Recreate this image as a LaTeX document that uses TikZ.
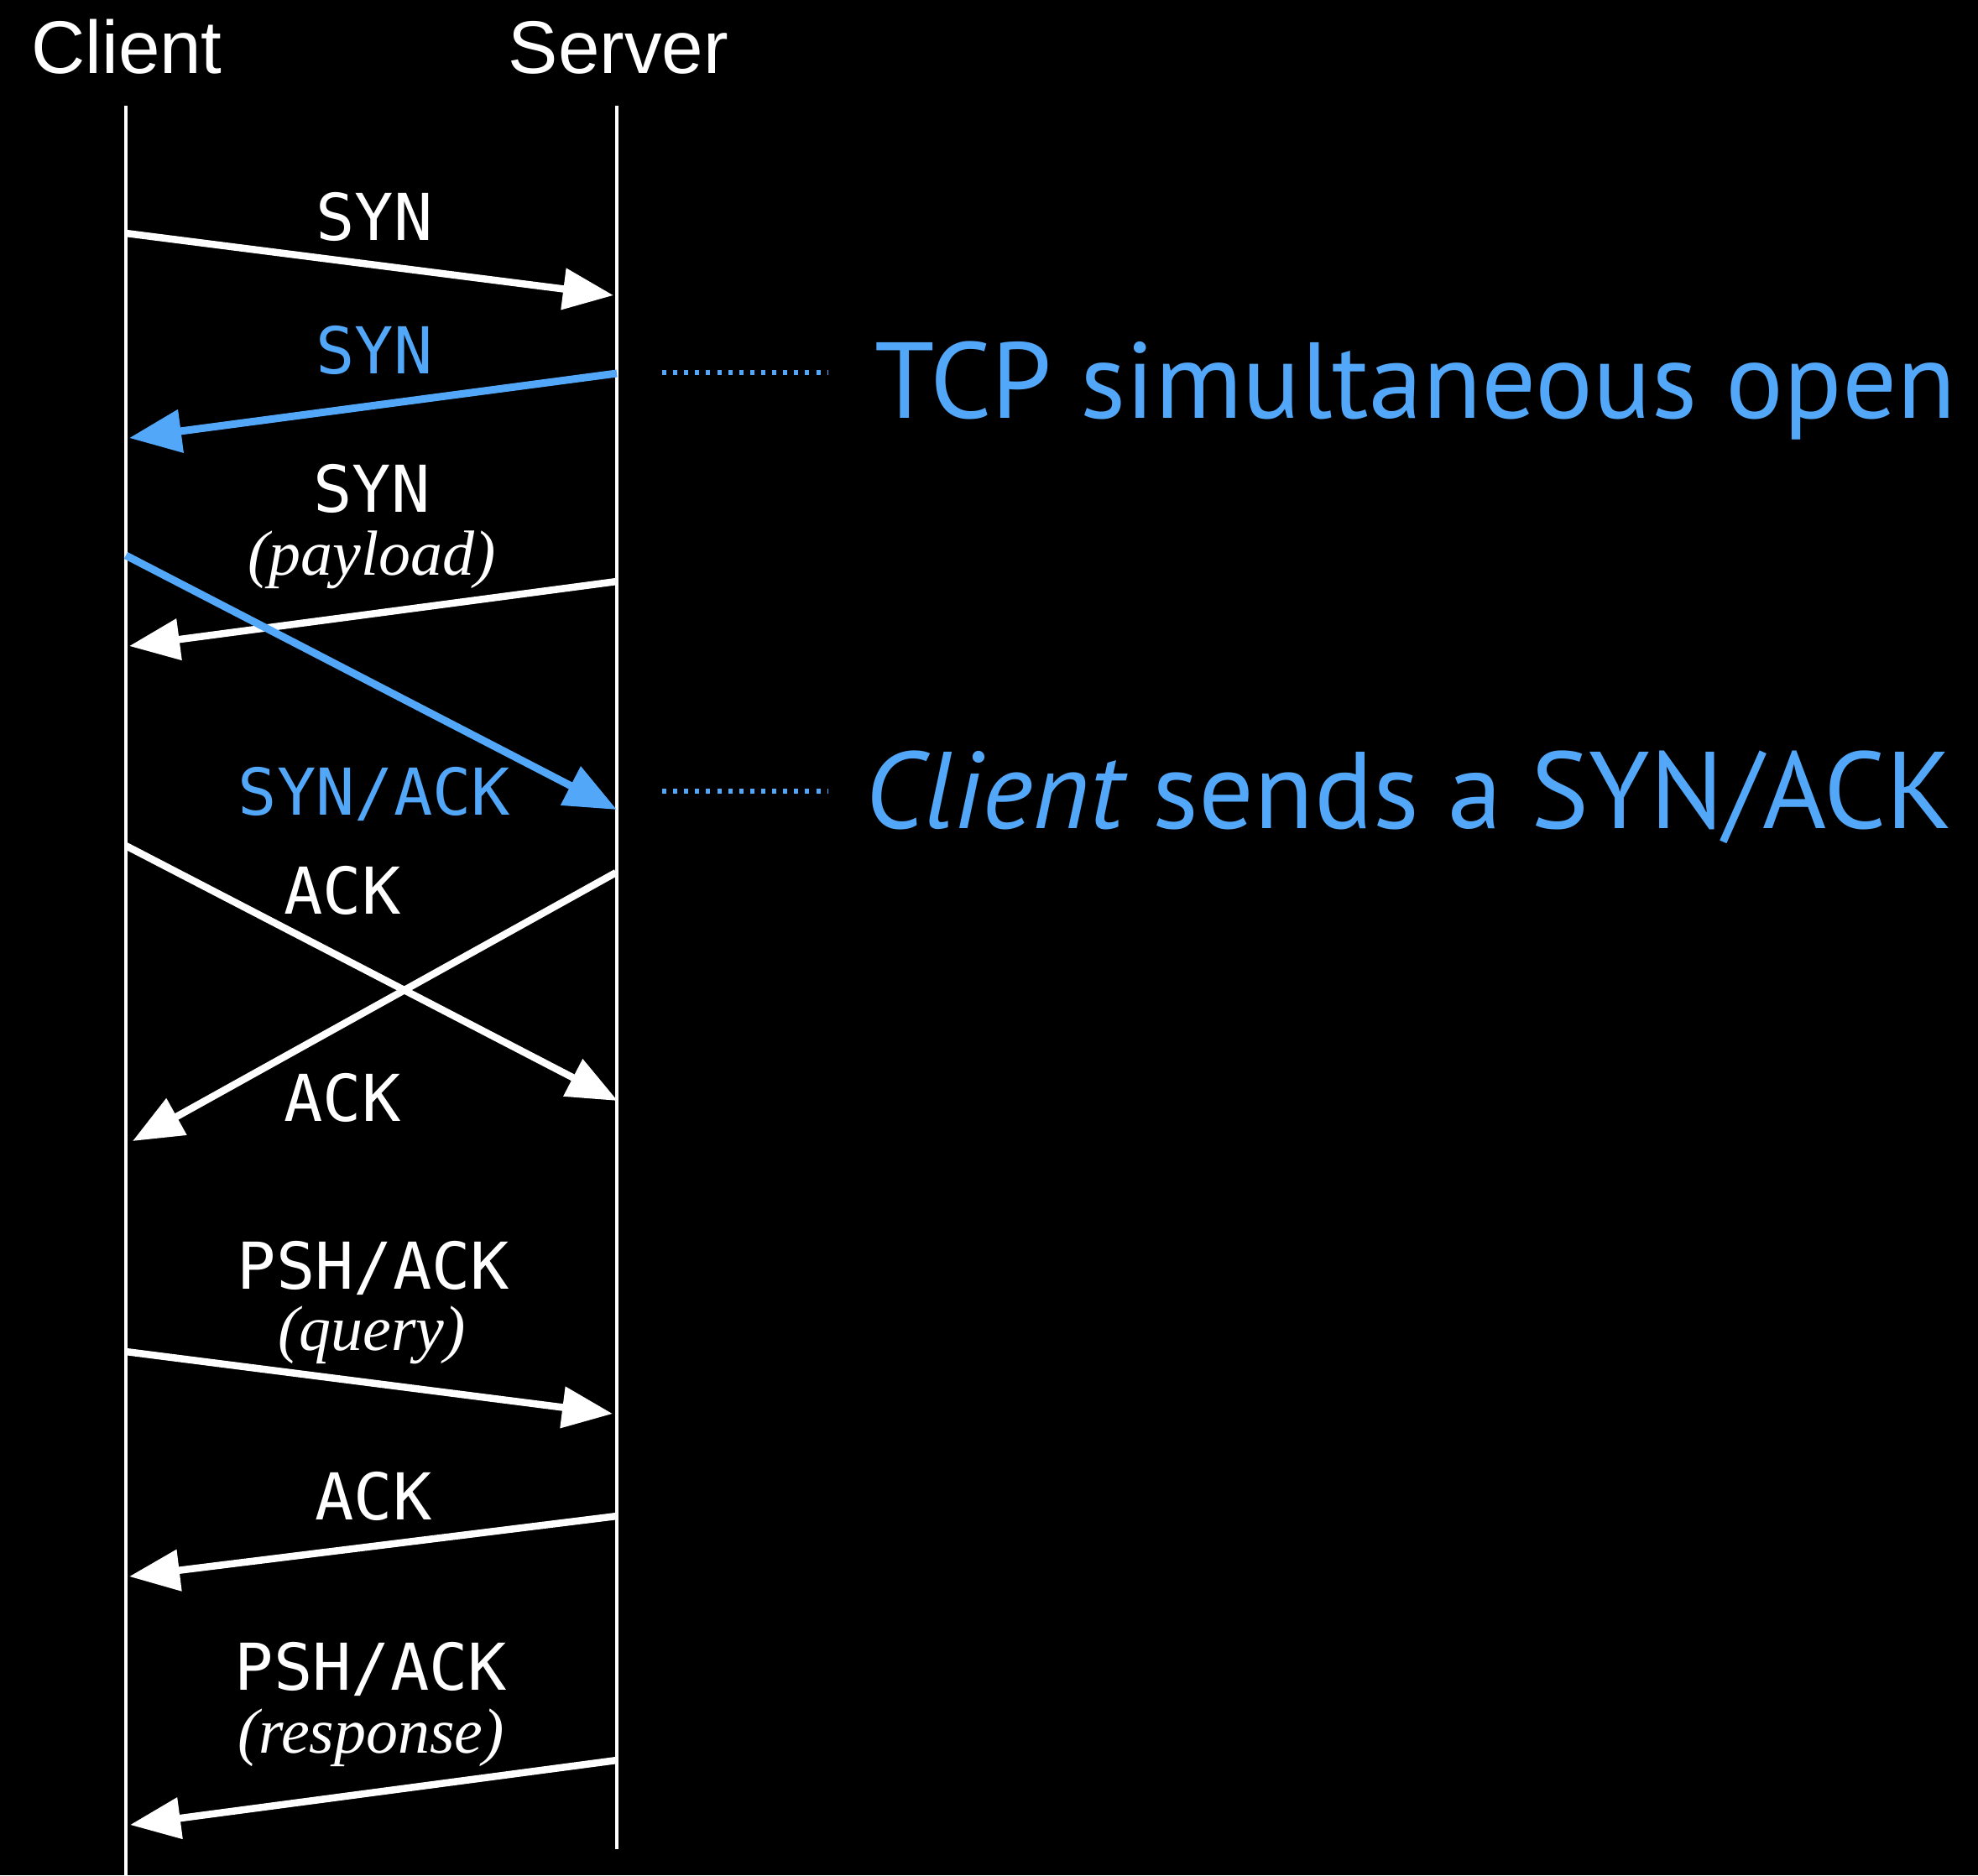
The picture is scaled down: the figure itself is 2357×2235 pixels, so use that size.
\documentclass[tikz,border=0pt]{standalone}
\usepackage{fontspec}
\setmainfont{Liberation Serif}
\newfontfamily\titlefont{Liberation Sans}
\newfontfamily\labelfont{DejaVu Sans Mono}
\newfontfamily\annfont{PT Sans}
\usetikzlibrary{arrows.meta}
\definecolor{tcpblue}{RGB}{82,167,248}
\tikzset{
 lifeline/.style={draw=white, line width=0.045cm},
 msg/.style={draw=white, line width=0.085cm, -{Triangle[length=0.6cm,width=0.48cm]}},
 bmsg/.style={draw=tcpblue, line width=0.09cm, -{Triangle[length=0.62cm,width=0.5cm]}},
 title/.style={text=white, font=\titlefont\fontsize{25.3}{30}\selectfont, inner sep=0, anchor=base},
 lbl/.style={text=white, font=\labelfont\fontsize{21.9}{26}\selectfont, inner sep=0, anchor=base},
 blbl/.style={lbl, text=tcpblue},
 note/.style={text=white, font=\itshape\fontsize{21.6}{26}\selectfont, inner sep=0, anchor=base},
 ann/.style={text=tcpblue, font=\annfont\fontsize{37}{44}\selectfont, inner sep=0, anchor=base west},
 dotline/.style={draw=tcpblue, line width=0.06cm, dash pattern=on 0.05cm off 0.081cm},
}
\begin{document}
\begin{tikzpicture}[x=0.01cm,y=-0.01cm]
\fill[black] (0,0) rectangle (2357,2235);
\useasboundingbox (0,0) rectangle (2357,2235);
% titles
\node[title] (client) at (151,87) {Client};
\node[title] (server) at (737,87) {Server};
% lifelines
\coordinate (ctop) at (150,126);
\coordinate (cbot) at (150,2235);
\coordinate (stop) at (735,126);
\coordinate (sbot) at (735,2204);
\draw[lifeline] (ctop) -- (cbot);
\draw[lifeline] (stop) -- (sbot);
% message end points
\coordinate (c1) at (150,278);  \coordinate (s1) at (731,352);
\coordinate (s2) at (735,445);  \coordinate (c2) at (154,522);
\coordinate (s3) at (735,693);  \coordinate (c3) at (154,770);
\coordinate (c4) at (150,662);  \coordinate (s4) at (735,965);
\coordinate (c5) at (150,1008); \coordinate (s5) at (736,1312);
\coordinate (s6) at (734,1040); \coordinate (c6) at (158,1360);
\coordinate (c7) at (150,1611); \coordinate (s7) at (730,1685);
\coordinate (s8) at (735,1807); \coordinate (c8) at (154,1879);
\coordinate (s9) at (735,2098); \coordinate (c9) at (155,2175);
% messages
\draw[msg] (c1) -- (s1);
\draw[bmsg] (s2) -- (c2);
\draw[msg] (s3) -- (c3);
\draw[bmsg] (c4) -- (s4);
\draw[msg] (c5) -- (s5);
\draw[msg] (s6) -- (c6);
\draw[msg] (c7) -- (s7);
\draw[msg] (s8) -- (c8);
\draw[msg] (s9) -- (c9);
% labels
\node[lbl] (l1) at (446,286) {SYN};
\node[blbl] (l2) at (446,445) {SYN};
\node[lbl] (l3) at (443,610) {SYN};
\node[note] (l3b) at (443,685) {(payload)};
\node[blbl] (l4) at (446,971) {SYN/ACK};
\node[lbl] (l5) at (408,1089) {ACK};
\node[lbl] (l6) at (408,1336) {ACK};
\node[lbl] (l7) at (445,1536) {PSH/ACK};
\node[note] (l7b) at (443,1609) {(query)};
\node[lbl] (l8) at (445,1811) {ACK};
\node[lbl] (l9) at (442,2014) {PSH/ACK};
\node[note] (l9b) at (442,2089) {(response)};
% annotations
\node[ann] (ann1) at (1042,498) {\fontsize{36.6}{44}\selectfont TCP simultaneous open};
\node[ann] (ann2) at (1030,987) {\itshape Client\upshape{} sends a SYN/ACK};
\coordinate (d1a) at (789,444); \coordinate (d1b) at (986,444);
\coordinate (d2a) at (789,943); \coordinate (d2b) at (986,943);
\draw[dotline] (d1a) -- (d1b);
\draw[dotline] (d2a) -- (d2b);
\end{tikzpicture}
\end{document}
